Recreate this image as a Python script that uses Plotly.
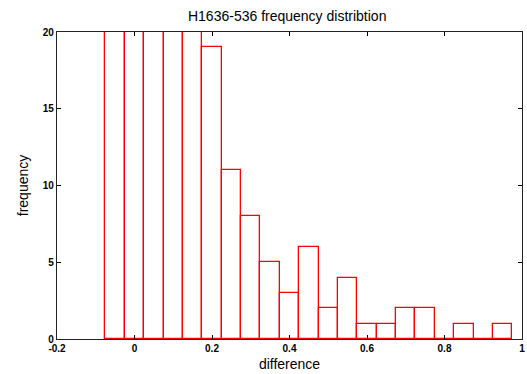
import plotly.graph_objects as go

# bin centres (width 0.05) and counts; the first bars run past the top of the y range
bin_centers = [-0.05, 0.0, 0.05, 0.10, 0.15, 0.20, 0.25, 0.30, 0.35, 0.40, 0.45,
               0.50, 0.55, 0.60, 0.65, 0.70, 0.75, 0.80, 0.85, 0.90, 0.95]
counts = [24, 36, 45, 40, 28, 19, 11, 8, 5, 3, 6,
          2, 4, 1, 1, 2, 2, 0, 1, 0, 1]
x_ticks = [-0.2, 0, 0.2, 0.4, 0.6, 0.8, 1.0]
x_labels = ["-0.2", "0", "0.2", "0.4", "0.6", "0.8", "1"]
y_ticks = [0, 5, 10, 15, 20]

fig = go.Figure()
fig.add_trace(go.Bar(
    x=bin_centers, y=counts, width=0.05,
    marker=dict(color="rgba(0,0,0,0)", line=dict(color="#ff0000", width=1.3)),
    showlegend=False, hoverinfo="skip",
))

font = "Liberation Sans, Arial, Helvetica, sans-serif"
fig.update_layout(
    width=527, height=374,
    margin=dict(l=57, r=5, t=32, b=35),
    paper_bgcolor="white", plot_bgcolor="white",
    title=dict(text="H1636-536 frequency distribtion", x=0.545, xanchor="center",
               y=1 - 16 / 374, yanchor="middle",
               font=dict(family=font, size=14, color="black")),
    bargap=0,
)
fig.update_xaxes(
    range=[-0.2, 1.0], tickvals=x_ticks, ticktext=x_labels, automargin=False,
    ticks="inside", ticklen=4, tickcolor="black", tickwidth=1,
    showline=True, linecolor="#222", linewidth=1.2, mirror="ticks",
    showgrid=False, zeroline=False,
    tickfont=dict(family=font, size=10, color="black", weight="bold"),
    title=dict(text="difference", standoff=6, font=dict(family=font, size=14, color="black")),
)
fig.update_yaxes(
    range=[0, 20], tickvals=y_ticks, automargin=False,
    ticks="inside", ticklen=4, tickcolor="black", tickwidth=1,
    showline=True, linecolor="#222", linewidth=1.2, mirror="ticks",
    showgrid=False, zeroline=False,
    tickfont=dict(family=font, size=10, color="black", weight="bold"),
    title=dict(text="frequency", standoff=10, font=dict(family=font, size=14, color="black")),
)
fig.write_html("out.html", config={"displayModeBar": False},
               post_script="document.body.style.margin='0';document.body.style.overflow='hidden';")
